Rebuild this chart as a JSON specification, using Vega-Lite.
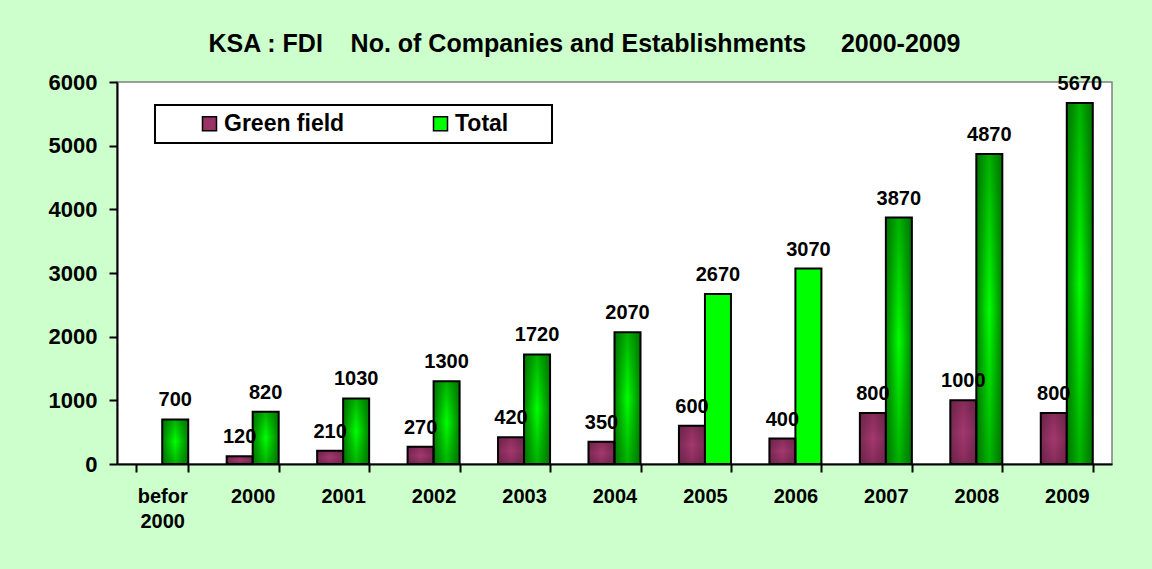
{
  "$schema": "https://vega.github.io/schema/vega-lite/v6.json",
  "width": 995,
  "height": 382,
  "autosize": {"type": "none"},
  "padding": {"left": 117, "top": 82, "right": 40, "bottom": 105},
  "background": "#CCFFCC",
  "view": {"fill": "white", "stroke": "#808080", "strokeWidth": 1.5},
  "config": {"font": "Liberation Sans"},
  "title": {
    "text": "KSA : FDI\u00a0\u00a0\u00a0 No. of Companies and Establishments\u00a0\u00a0\u00a0\u00a0 2000-2009",
    "fontSize": 25,
    "fontWeight": "bold",
    "color": "black",
    "anchor": "middle",
    "dx": -30,
    "dy": 38,
    "offset": 32,
    "baseline": "alphabetic"
  },
  "data": {
    "values": [
      {"cat": "befor 2000", "series": "Total", "value": 700},
      {"cat": "2000", "series": "Green field", "value": 120},
      {"cat": "2000", "series": "Total", "value": 820},
      {"cat": "2001", "series": "Green field", "value": 210},
      {"cat": "2001", "series": "Total", "value": 1030},
      {"cat": "2002", "series": "Green field", "value": 270},
      {"cat": "2002", "series": "Total", "value": 1300},
      {"cat": "2003", "series": "Green field", "value": 420},
      {"cat": "2003", "series": "Total", "value": 1720},
      {"cat": "2004", "series": "Green field", "value": 350},
      {"cat": "2004", "series": "Total", "value": 2070},
      {"cat": "2005", "series": "Green field", "value": 600},
      {"cat": "2005", "series": "Total", "value": 2670},
      {"cat": "2006", "series": "Green field", "value": 400},
      {"cat": "2006", "series": "Total", "value": 3070},
      {"cat": "2007", "series": "Green field", "value": 800},
      {"cat": "2007", "series": "Total", "value": 3870},
      {"cat": "2008", "series": "Green field", "value": 1000},
      {"cat": "2008", "series": "Total", "value": 4870},
      {"cat": "2009", "series": "Green field", "value": 800},
      {"cat": "2009", "series": "Total", "value": 5670}
    ]
  },
  "encoding": {
    "x": {
      "field": "cat",
      "type": "nominal",
      "sort": null,
      "scale": {"paddingInner": 0.425, "paddingOuter": 0.2125},
      "axis": {
        "title": null,
        "labelAngle": 0,
        "labelFontSize": 20,
        "labelFontWeight": "bold",
        "labelColor": "black",
        "labelPadding": 14,
        "labelLineHeight": 25,
        "labelExpr": "datum.value == 'befor 2000' ? ['befor', '2000'] : datum.value",
        "domainColor": "black",
        "domainWidth": 2,
        "tickColor": "black",
        "tickWidth": 2,
        "tickSize": 8,
        "tickBand": "extent"
      }
    },
    "xOffset": {"field": "series", "type": "nominal", "sort": ["Green field", "Total"]},
    "y": {
      "field": "value",
      "type": "quantitative",
      "scale": {"domain": [0, 6000]},
      "axis": {
        "title": null,
        "values": [0, 1000, 2000, 3000, 4000, 5000, 6000],
        "format": "d",
        "grid": false,
        "labelFontSize": 22,
        "labelFontWeight": "bold",
        "labelColor": "black",
        "labelPadding": 12,
        "domainColor": "black",
        "domainWidth": 2,
        "tickColor": "black",
        "tickWidth": 2,
        "tickSize": 8
      }
    }
  },
  "layer": [
    {
      "mark": {"type": "bar"},
      "encoding": {
        "fill": {
          "condition": [
            {
              "test": "datum.series === 'Green field'",
              "value": {"gradient": "linear", "x1": 0, "y1": 0, "x2": 1, "y2": 0,
                "stops": [{"offset": 0, "color": "#7A2A55"}, {"offset": 0.5, "color": "#A5386F"}, {"offset": 1, "color": "#7A2A55"}]}
            },
            {"test": "datum.cat === '2005' || datum.cat === '2006'", "value": "#00FF00"}
          ],
          "value": {"gradient": "linear", "x1": 0, "y1": 0, "x2": 1, "y2": 0,
            "stops": [{"offset": 0, "color": "#008000"}, {"offset": 0.5, "color": "#00FF00"}, {"offset": 1, "color": "#008000"}]}
        }
      }
    },
    {
      "mark": {"type": "bar", "stroke": "black", "strokeWidth": 2},
      "encoding": {
        "fill": {
          "condition": [
            {
              "test": "datum.series === 'Green field'",
              "value": {"gradient": "linear", "x1": 0, "y1": 0, "x2": 0, "y2": 1,
                "stops": [{"offset": 0, "color": "rgba(80,20,50,0.35)"}, {"offset": 0.5, "color": "rgba(80,20,50,0)"}, {"offset": 1, "color": "rgba(80,20,50,0.35)"}]}
            },
            {"test": "datum.cat === '2005' || datum.cat === '2006'", "value": "transparent"}
          ],
          "value": {"gradient": "linear", "x1": 0, "y1": 0, "x2": 0, "y2": 1,
            "stops": [{"offset": 0, "color": "rgba(0,100,0,0.5)"}, {"offset": 0.5, "color": "rgba(0,100,0,0)"}, {"offset": 1, "color": "rgba(0,100,0,0.5)"}]}
        }
      }
    },
    {
      "mark": {"type": "text", "fontSize": 20, "fontWeight": "bold", "color": "black", "baseline": "alphabetic", "dy": -13},
      "encoding": {"text": {"field": "value", "type": "quantitative"}}
    },
    {
      "mark": {"type": "square", "opacity": 0},
      "encoding": {
        "color": {
          "field": "series",
          "type": "nominal",
          "scale": {"domain": ["Green field", "Total"], "range": ["#993366", "#00FF00"]},
          "legend": {
            "title": null,
            "orient": "none",
            "legendX": 38,
            "legendY": 23,
            "direction": "horizontal",
            "columns": 2,
            "columnPadding": 48,
            "symbolType": "square",
            "symbolSize": 196,
            "symbolStrokeColor": "black",
            "symbolStrokeWidth": 1.5,
            "symbolOpacity": 1,
            "symbolOffset": 36,
            "labelFontSize": 23,
            "labelFontWeight": "bold",
            "labelColor": "black",
            "labelOffset": 3,
            "labelLimit": 300,
            "padding": 7,
            "fillColor": "white",
            "strokeColor": "black",
            "labelExpr": "datum.label == 'Total' ? 'Total\u00a0\u00a0\u00a0\u2800' : datum.label",
            "encode": {"legend": {"update": {"strokeWidth": {"value": 2}}}}
          }
        }
      }
    }
  ]
}
